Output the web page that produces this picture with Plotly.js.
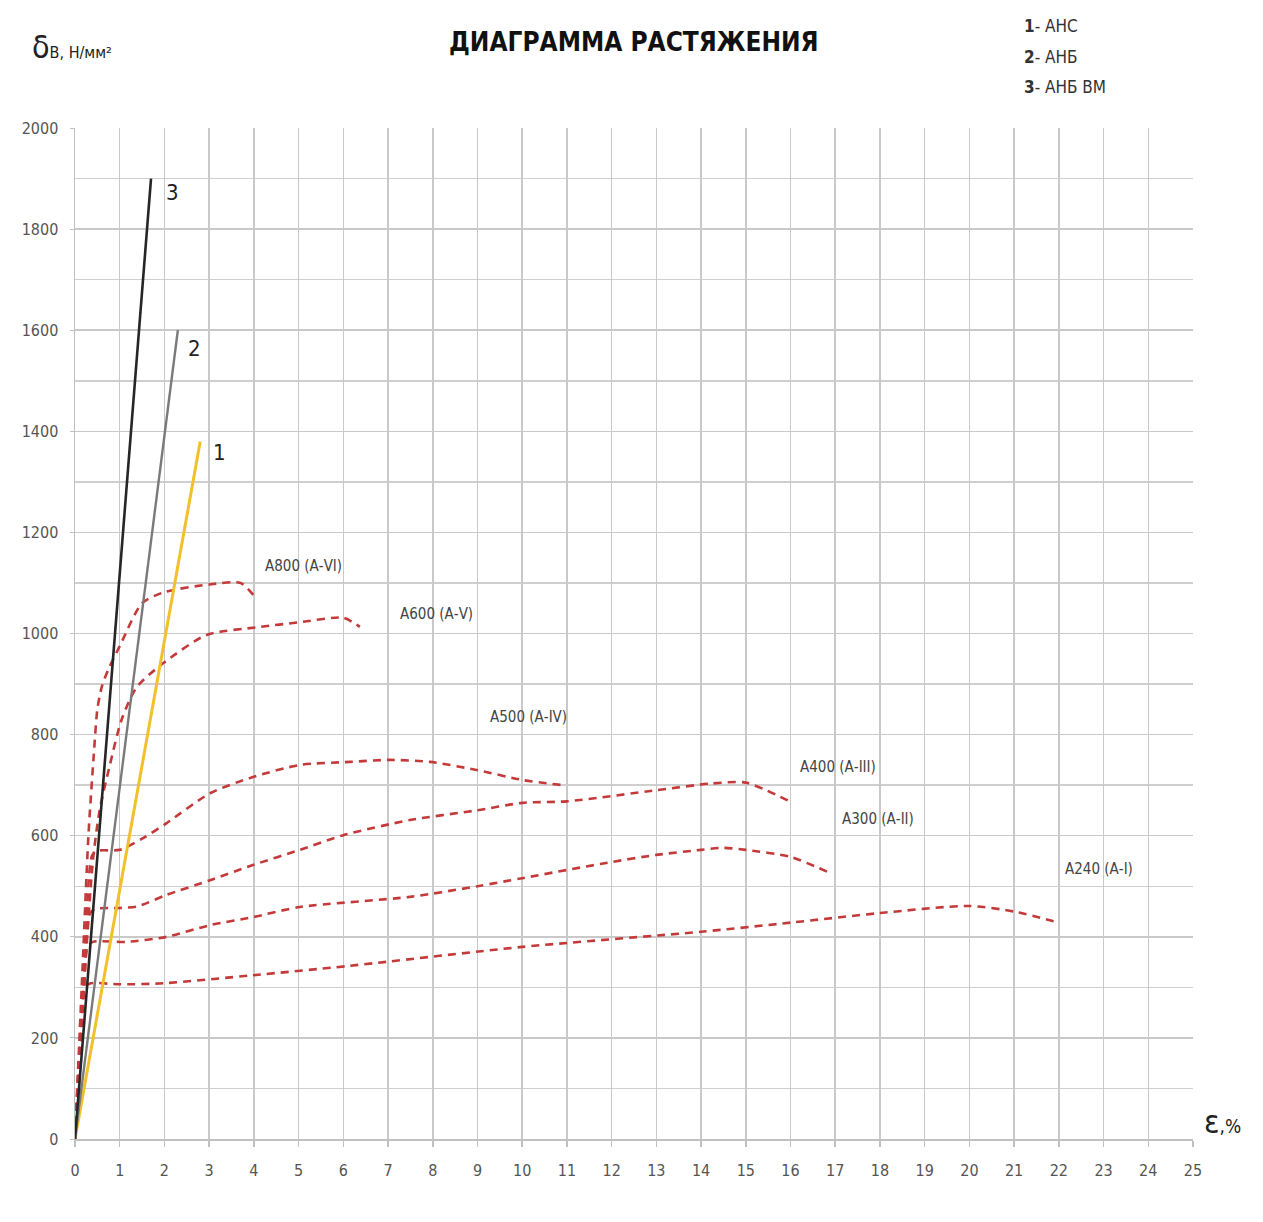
<!DOCTYPE html>
<html>
<head>
<meta charset="utf-8">
<script src="https://cdn.plot.ly/plotly-3.0.1.min.js"></script>
<style>html,body{margin:0;padding:0;background:#fff;}#chart{width:1263px;height:1222px;}</style>
</head>
<body>
<div id="chart"></div>
<script>
// Straight lines 1-3
const eps_AHC = [0, 2.8];      const sig_AHC = [0, 1380];
const eps_AHB = [0, 2.3];      const sig_AHB = [0, 1600];
const eps_AHBVM = [0, 1.7];    const sig_AHBVM = [0, 1900];

// Steel curves (dashed)
const eps_A800 = [0, 0.15, 0.3, 0.42, 0.5, 0.6, 0.75, 1.0, 1.5, 2.0, 3.0, 3.7, 4.0];
const sig_A800 = [0, 300, 600, 760, 850, 895, 930, 975, 1060, 1082, 1097, 1100, 1075];
const eps_A600 = [0, 0.2, 0.4, 0.55, 0.78, 1.04, 1.38, 1.97, 2.94, 4.14, 5.0, 6.0, 6.37];
const sig_A600 = [0, 300, 550, 650, 740, 829, 894, 941, 997, 1013, 1022, 1031, 1013];
const eps_A500 = [0, 0.2, 0.38, 0.5, 1.0, 1.52, 2.05, 3.02, 3.98, 5.03, 6.15, 7.04, 7.94, 8.98, 10.02, 10.91];
const sig_A500 = [0, 300, 560, 570, 572, 595, 625, 684, 716, 740, 746, 750, 746, 730, 710, 700];
const eps_A400 = [0, 0.2, 0.33, 0.45, 1.0, 1.39, 2.05, 3.02, 3.98, 5.03, 6.0, 7.49, 8.98, 10.0, 11.0, 13.0, 14.2, 15.0, 16.0];
const sig_A400 = [0, 300, 445, 455, 457, 460, 483, 512, 542, 572, 601, 631, 650, 665, 668, 690, 703, 705, 667];
const eps_A300 = [0, 0.15, 0.28, 0.4, 1.16, 2.05, 3.02, 3.98, 5.03, 7.49, 9.0, 10.0, 12.0, 13.0, 14.0, 14.5, 15.0, 16.0, 16.84];
const sig_A300 = [0, 250, 380, 390, 390, 400, 423, 439, 459, 479, 500, 516, 548, 562, 572, 576, 572, 558, 528];
const eps_A240 = [0, 0.12, 0.22, 0.35, 1.0, 1.97, 3.98, 6.08, 10.0, 14.0, 16.0, 18.0, 20.0, 21.0, 22.0];
const sig_A240 = [0, 200, 300, 308, 306, 308, 324, 342, 380, 410, 428, 447, 461, 450, 428];

const steelNames = ['А800 (А-VI)', 'А600 (А-V)', 'А500 (А-IV)', 'А400 (А-III)', 'А300 (А-II)', 'А240 (А-I)'];
const steelLabelX = [4.2, 7.22, 9.24, 16.17, 17.1, 22.09];
const steelLabelY = [1133, 1039, 835, 736, 633, 534];

const lineNums = ['1', '2', '3'];
const lineNumX = [3.24, 2.68, 2.19];
const lineNumY = [1359, 1563, 1873];

const legendNums = ['1', '2', '3'];
const legendNames = ['АНС', 'АНБ', 'АНБ ВМ'];

const xTicks = Array.from({length: 26}, (_, i) => i);
const yTicks = [0, 200, 400, 600, 800, 1000, 1200, 1400, 1600, 1800, 2000];

const RED = 'rgb(196,58,58)';
const narrow = '"Liberation Sans Narrow", "DejaVu Sans Condensed", "Open Sans", sans-serif';

const steelData = [
  [eps_A800, sig_A800], [eps_A600, sig_A600], [eps_A500, sig_A500],
  [eps_A400, sig_A400], [eps_A300, sig_A300], [eps_A240, sig_A240]
];

const traces = [];
steelData.forEach((d, i) => {
  traces.push({
    x: d[0], y: d[1], type: 'scatter', mode: 'lines', name: steelNames[i],
    line: {color: RED, width: 2.6, dash: '8px,6px', shape: 'spline', smoothing: 0.7},
    hoverinfo: 'skip'
  });
});
traces.push({x: eps_AHC, y: sig_AHC, type: 'scatter', mode: 'lines', line: {color: '#F2C02A', width: 3}, hoverinfo: 'skip'});
traces.push({x: eps_AHB, y: sig_AHB, type: 'scatter', mode: 'lines', line: {color: '#7a7a7a', width: 2.4}, hoverinfo: 'skip'});
traces.push({x: eps_AHBVM, y: sig_AHBVM, type: 'scatter', mode: 'lines', line: {color: '#262626', width: 2.6}, hoverinfo: 'skip'});

const annotations = [];
steelNames.forEach((n, i) => {
  annotations.push({x: steelLabelX[i], y: steelLabelY[i], xref: 'x', yref: 'y', text: n, showarrow: false,
    xanchor: 'left', yanchor: 'middle', font: {family: narrow, size: 15, color: '#444'}});
});
lineNums.forEach((n, i) => {
  annotations.push({x: lineNumX[i], y: lineNumY[i], xref: 'x', yref: 'y', text: n, showarrow: false,
    xanchor: 'center', yanchor: 'middle', font: {family: narrow, size: 22, color: '#222'}});
});

const W = 1263, H = 1222, ML = 75, MR = 70, MT = 128, MB = 83;
const pw = W - ML - MR, ph = H - MT - MB;
function px(xp, yp) { return {x: (xp - ML) / pw, y: 1 - (yp - MT) / ph}; }

legendNums.forEach((n, i) => {
  const q = px(1022, 26 + 30.5 * i);
  annotations.push({x: q.x, y: q.y, xref: 'paper', yref: 'paper', text: '<b>' + n + '</b>- ' + legendNames[i],
    showarrow: false, xanchor: 'left', yanchor: 'middle', font: {family: narrow, size: 17, color: '#333'}});
});

let p = px(30, 47);
annotations.push({x: p.x, y: p.y, xref: 'paper', yref: 'paper', showarrow: false, xanchor: 'left', yanchor: 'middle',
  text: 'δ<span style="font-size:16px">В, Н/мм²</span>', font: {family: narrow, size: 32, color: '#222'}});
p = px(1202, 1122);
annotations.push({x: p.x, y: p.y, xref: 'paper', yref: 'paper', showarrow: false, xanchor: 'left', yanchor: 'middle',
  text: 'ε<span style="font-size:19px">,%</span>', font: {family: narrow, size: 32, color: '#222'}});
p = px(634, 42);
annotations.push({x: p.x, y: p.y, xref: 'paper', yref: 'paper', showarrow: false, xanchor: 'center', yanchor: 'middle',
  text: '<b>ДИАГРАММА РАСТЯЖЕНИЯ</b>', font: {family: narrow, size: 26, color: '#111'}});

const layout = {
  width: W, height: H,
  margin: {l: ML, r: MR, t: MT, b: MB},
  paper_bgcolor: '#fff', plot_bgcolor: '#fff',
  showlegend: false,
  xaxis: {
    range: [0, 25], tickvals: xTicks, ticktext: xTicks.map(String),
    showgrid: true, gridcolor: '#c9c9c9', gridwidth: 1.5,
    showline: true, linecolor: '#c0c0c0', linewidth: 1.5, mirror: false,
    ticks: 'outside', ticklen: 6, tickcolor: '#c0c0c0', tickwidth: 1.5,
    ticklabelstandoff: 10,
    zeroline: false,
    tickfont: {family: narrow, size: 16, color: '#555'}
  },
  yaxis: {
    range: [0, 2000], tickvals: yTicks, ticktext: yTicks.map(String),
    showgrid: true, gridcolor: '#c9c9c9', gridwidth: 1.5,
    minor: {dtick: 100, tick0: 0, showgrid: true, gridcolor: '#cfcfcf', gridwidth: 1.5},
    showline: true, linecolor: '#c0c0c0', linewidth: 1.5,
    ticks: 'outside', ticklen: 4, tickcolor: '#c0c0c0',
    ticklabelstandoff: 8,
    zeroline: false,
    tickfont: {family: narrow, size: 16, color: '#555'}
  },
  annotations: annotations
};

Plotly.newPlot('chart', traces, layout, {displayModeBar: false, staticPlot: true});
</script>
</body>
</html>
